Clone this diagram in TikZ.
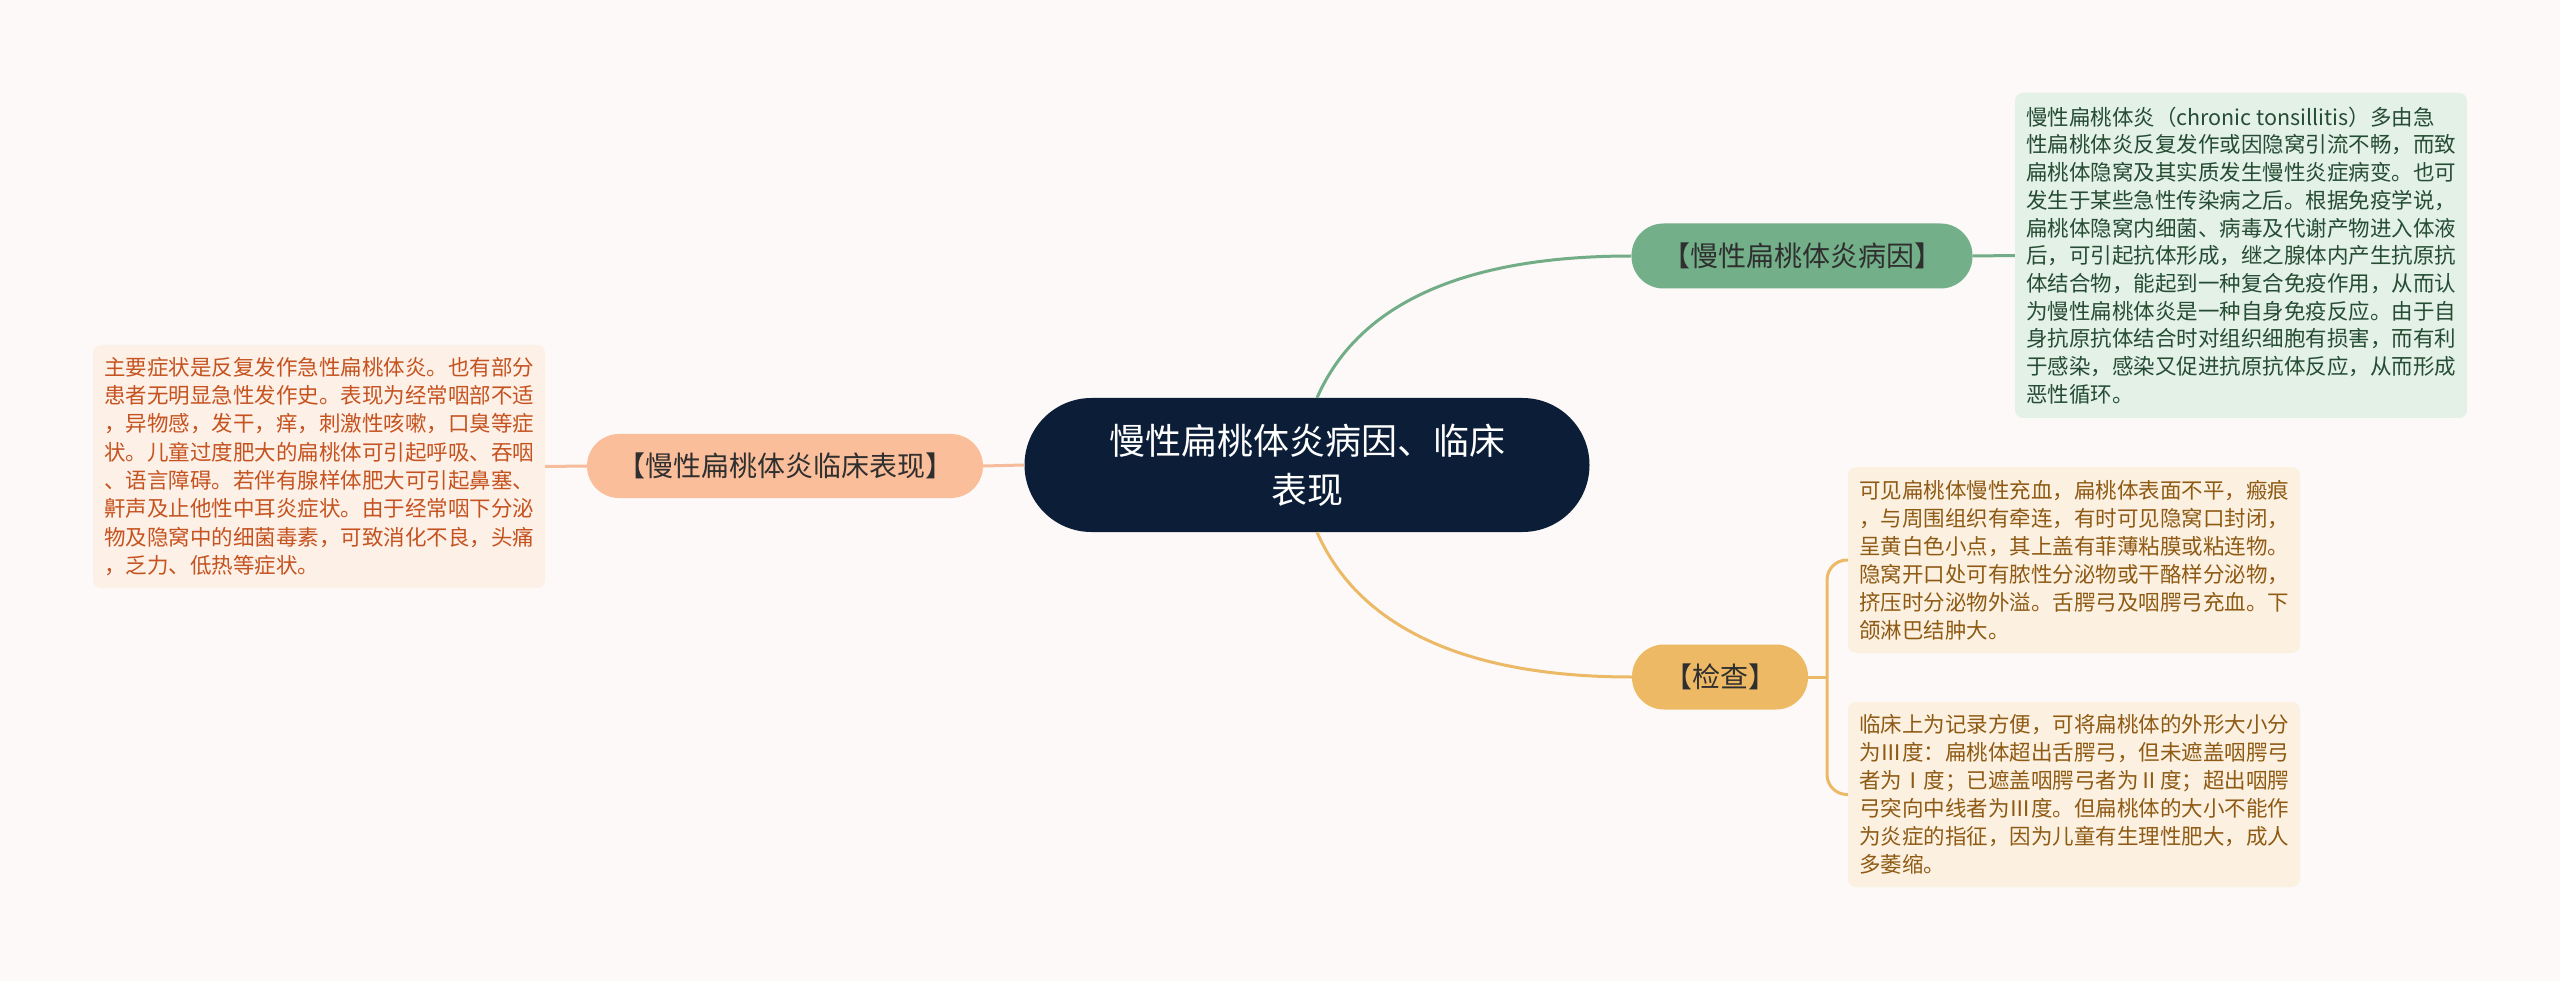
\documentclass[tikz,border=0pt]{standalone}
\usepackage{fontspec}
\newfontfamily\cjk{Noto Sans CJK SC}
\definecolor{bgc}{HTML}{FCF9F8}
\definecolor{navy}{HTML}{0C1E37}
\definecolor{gnode}{HTML}{73AF89}
\definecolor{gline}{HTML}{72AD88}
\definecolor{gbox}{HTML}{E3F1E7}
\definecolor{gtext}{HTML}{264C33}
\definecolor{pnode}{HTML}{FBBE9A}
\definecolor{pline}{HTML}{F6BC9B}
\definecolor{pbox}{HTML}{FDF0E7}
\definecolor{ptext}{HTML}{C55320}
\definecolor{ynode}{HTML}{EEB964}
\definecolor{yline}{HTML}{ECBA66}
\definecolor{ybox}{HTML}{FCF1E1}
\definecolor{ytext}{HTML}{8E5A14}
\definecolor{btext}{HTML}{2F2F2F}
\tikzset{
  rootnode/.style={fill=navy, text=white, rounded corners=67pt, minimum width=565pt, minimum height=134pt, inner sep=0pt, align=center, font=\cjk\fontsize{36pt}{49pt}\selectfont},
  branchnode/.style={rounded corners=32pt, minimum height=65pt, inner sep=0pt, text=btext, font=\cjk\fontsize{28pt}{34pt}\selectfont},
  infobox/.style={rounded corners=8pt, minimum width=452pt, inner sep=0pt, align=left, font=\cjk\fontsize{21.5pt}{28pt}\selectfont},
  conn/.style={line width=3pt},
}
\begin{document}
\begin{tikzpicture}[x=1pt,y=-1pt]
\fill[bgc] (0,0) rectangle (2560,981);
\useasboundingbox (0,0) rectangle (2560,981);

\node[rootnode] (root) at (1307,465) {慢性扁桃体炎病因、临床\\表现};

\node[branchnode, fill=pnode, minimum width=396pt, minimum height=64pt] (clin) at (785,466) {【慢性扁桃体炎临床表现】};
\node[branchnode, fill=gnode, minimum width=341pt] (cause) at (1802,256) {【慢性扁桃体炎病因】};
\node[branchnode, fill=ynode, minimum width=176pt] (exam) at (1720,677) {【检查】};

\node[infobox, fill=pbox, text=ptext, minimum height=243pt, font=\cjk\fontsize{21.5pt}{28.3pt}\selectfont] (clintext) at (319,466.5) {主要症状是反复发作急性扁桃体炎。也有部分\\患者无明显急性发作史。表现为经常咽部不适\\，异物感，发干，痒，刺激性咳嗽，口臭等症\\状。儿童过度肥大的扁桃体可引起呼吸、吞咽\\、语言障碍。若伴有腺样体肥大可引起鼻塞、\\鼾声及止他性中耳炎症状。由于经常咽下分泌\\物及隐窝中的细菌毒素，可致消化不良，头痛\\，乏力、低热等症状。};

\node[infobox, fill=gbox, text=gtext, minimum height=325pt, font=\cjk\fontsize{21.5pt}{27.7pt}\selectfont] (causetext) at (2241,255.5) {慢性扁桃体炎（chronic tonsillitis）多由急\\性扁桃体炎反复发作或因隐窝引流不畅，而致\\扁桃体隐窝及其实质发生慢性炎症病变。也可\\发生于某些急性传染病之后。根据免疫学说，\\扁桃体隐窝内细菌、病毒及代谢产物进入体液\\后，可引起抗体形成，继之腺体内产生抗原抗\\体结合物，能起到一种复合免疫作用，从而认\\为慢性扁桃体炎是一种自身免疫反应。由于自\\身抗原抗体结合时对组织细胞有损害，而有利\\于感染，感染又促进抗原抗体反应，从而形成\\恶性循环。};

\node[infobox, fill=ybox, text=ytext, minimum height=186pt] (exam1) at (2074,560) {可见扁桃体慢性充血，扁桃体表面不平，瘢痕\\，与周围组织有牵连，有时可见隐窝口封闭，\\呈黄白色小点，其上盖有菲薄粘膜或粘连物。\\隐窝开口处可有脓性分泌物或干酪样分泌物，\\挤压时分泌物外溢。舌腭弓及咽腭弓充血。下\\颌淋巴结肿大。};

\node[infobox, fill=ybox, text=ytext, minimum height=185pt] (exam2) at (2074,794.5) {临床上为记录方便，可将扁桃体的外形大小分\\为Ⅲ度：扁桃体超出舌腭弓，但未遮盖咽腭弓\\者为Ⅰ度；已遮盖咽腭弓者为Ⅱ度；超出咽腭\\弓突向中线者为Ⅲ度。但扁桃体的大小不能作\\为炎症的指征，因为儿童有生理性肥大，成人\\多萎缩。};

\coordinate (bk) at (1827,677);

% connectors
\draw[conn, pline] (root.west) -- (clin.east);
\draw[conn, pline] (clin.west) -- (clintext.east);
\draw[conn, gline] ([xshift=10pt]root.north) .. controls (1360,300) and (1470,256) .. (cause.west);
\draw[conn, gline] (cause.east) -- (causetext.west);
\draw[conn, yline] ([xshift=10pt]root.south) .. controls (1360,630) and (1470,677) .. (exam.west);
\draw[conn, yline] (exam.east) -- (bk);
\draw[conn, yline, rounded corners=20pt] (exam1.west) -| (bk |- exam2.west) -- (exam2.west);
\end{tikzpicture}
\end{document}
